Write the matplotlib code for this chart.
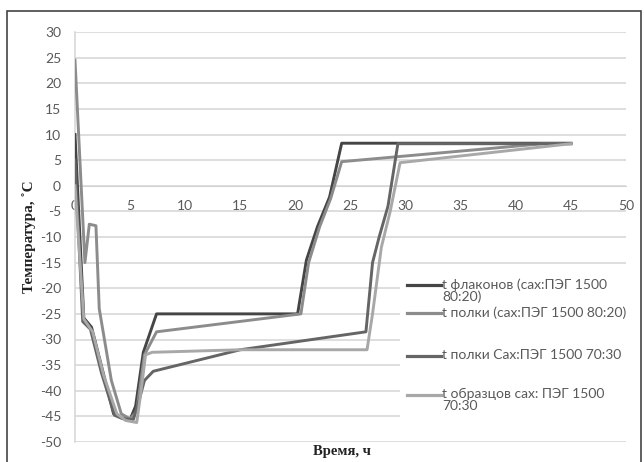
import matplotlib

matplotlib.use("Agg")
import matplotlib.pyplot as plt
from matplotlib.lines import Line2D
from matplotlib.patches import Rectangle

plt.rcParams["axes.unicode_minus"] = False

GRID = "#d4d4d4"
TICK = "#595959"
C1 = "#454545"
C2 = "#8c8c8c"
C3 = "#656565"
C4 = "#a8a8a8"

labels = [
    "t флаконов (сах:ПЭГ 1500\n80:20)",
    "t полки (сах:ПЭГ 1500 80:20)",
    "t полки Сах:ПЭГ 1500 70:30",
    "t образцов сах: ПЭГ 1500\n70:30",
]

# t флаконов 80:20
x1 = [0, 0.8, 1.5, 2.5, 3.5, 4.2, 5.0, 5.5, 6.2, 7.4, 20.2, 21.0, 22.0, 23.1, 24.2, 45]
y1 = [10, -25.8, -27.6, -36, -44.5, -45.3, -45.6, -43, -32.5, -25, -25, -14.5, -8, -2.2, 8.3, 8.3]

# t полки 80:20
x2 = [0, 0.9, 1.3, 1.9, 2.2, 3.3, 4.2, 5.0, 5.6, 6.3, 7.4, 20.5, 21.2, 22.2, 23.2, 24.2, 42.5, 45]
y2 = [24.5, -15, -7.5, -7.8, -24, -38, -44.5, -45.5, -44, -33, -28.5, -25, -15, -8, -2.5, 4.7, 8.2, 8.2]

# t полки 70:30
x3 = [0, 0.7, 1.4, 2.4, 3.6, 4.4, 5.3, 5.8, 6.3, 7.1, 15.0, 26.4, 27.0, 27.6, 28.4, 29.3, 45]
y3 = [5, -26.5, -28, -36.5, -44.8, -45.5, -45.6, -42, -38, -36.2, -32, -28.5, -15, -10, -4, 8.2, 8.2]

# t образцов 70:30
x4 = [0, 0.8, 1.6, 2.6, 3.8, 4.6, 5.6, 6.0, 6.4, 7.0, 15.0, 26.5, 27.0, 27.8, 28.6, 29.5, 45]
y4 = [0, -26, -28.5, -37, -44.5, -45.8, -46.2, -40, -33, -32.5, -32, -32, -25, -12, -5, 4.5, 8.2]

series = [(x1, y1, C1), (x2, y2, C2), (x3, y3, C3), (x4, y4, C4)]

fig = plt.figure(figsize=(6.44, 4.62), dpi=100, facecolor="white")
ax = fig.add_axes([75 / 644, 1 - 442 / 462, (626 - 75) / 644, (442 - 32) / 462])

for x, y, c in series:
    ax.plot(x, y, color=c, linewidth=2.1, solid_joinstyle="round", zorder=3)

ax.set_xlim(0, 50)
ax.set_ylim(-50, 30)
ax.set_xticks(range(0, 51, 5))
ax.set_yticks(range(-50, 31, 5))
ax.yaxis.grid(True, color=GRID, linewidth=1.1)
ax.set_axisbelow(True)

for s in ["top", "right"]:
    ax.spines[s].set_visible(False)
ax.spines["bottom"].set_position(("data", 0))
ax.spines["bottom"].set_color(GRID)
ax.spines["left"].set_color(GRID)
ax.spines["left"].set_linewidth(1.1)
ax.tick_params(axis="both", length=0, colors=TICK, labelsize=10)
ax.tick_params(axis="y", pad=10)
ax.tick_params(axis="x", pad=10)
for lbl in ax.get_xticklabels() + ax.get_yticklabels():
    lbl.set_fontfamily("Lato")

fig.text(29 / 644, 1 - 237 / 462, "Температура, ˚С", rotation=90, ha="center", va="center",
         fontfamily="Liberation Serif", fontweight="bold", fontsize=11, color="#222222")
fig.text(342 / 644, 1 - 451 / 462, "Время, ч", ha="center", va="center",
         fontfamily="Liberation Serif", fontweight="bold", fontsize=10.5, color="#222222")

# legend drawn by hand so the handles sit on the first text line, as in Excel
fig.patches.append(Rectangle((400 / 644, 1 - 433 / 462), 227 / 644, 165 / 462,
                             transform=fig.transFigure, facecolor="white", edgecolor="none", zorder=4))
leg_y = [285, 313, 356, 395]
for (x, y, c), lab, py in zip(series, labels, leg_y):
    fy = 1 - py / 462
    fig.lines.append(Line2D([407 / 644, 441 / 644], [fy, fy], transform=fig.transFigure,
                            color=c, linewidth=2.3, zorder=5))
    fig.text(442 / 644, fy + 7 / 462, lab, ha="left", va="top", fontfamily="Lato",
             fontsize=10, color=TICK, linespacing=0.95, zorder=5)

# outer frame
fig.patches.append(Rectangle((7 / 644, -0.05), 634 / 644, 1.05 - 11 / 462, transform=fig.transFigure,
                             facecolor="none", edgecolor="#444444", linewidth=1.2, zorder=6))

plt.savefig("out.png", dpi=100, facecolor="white")
plt.close()
